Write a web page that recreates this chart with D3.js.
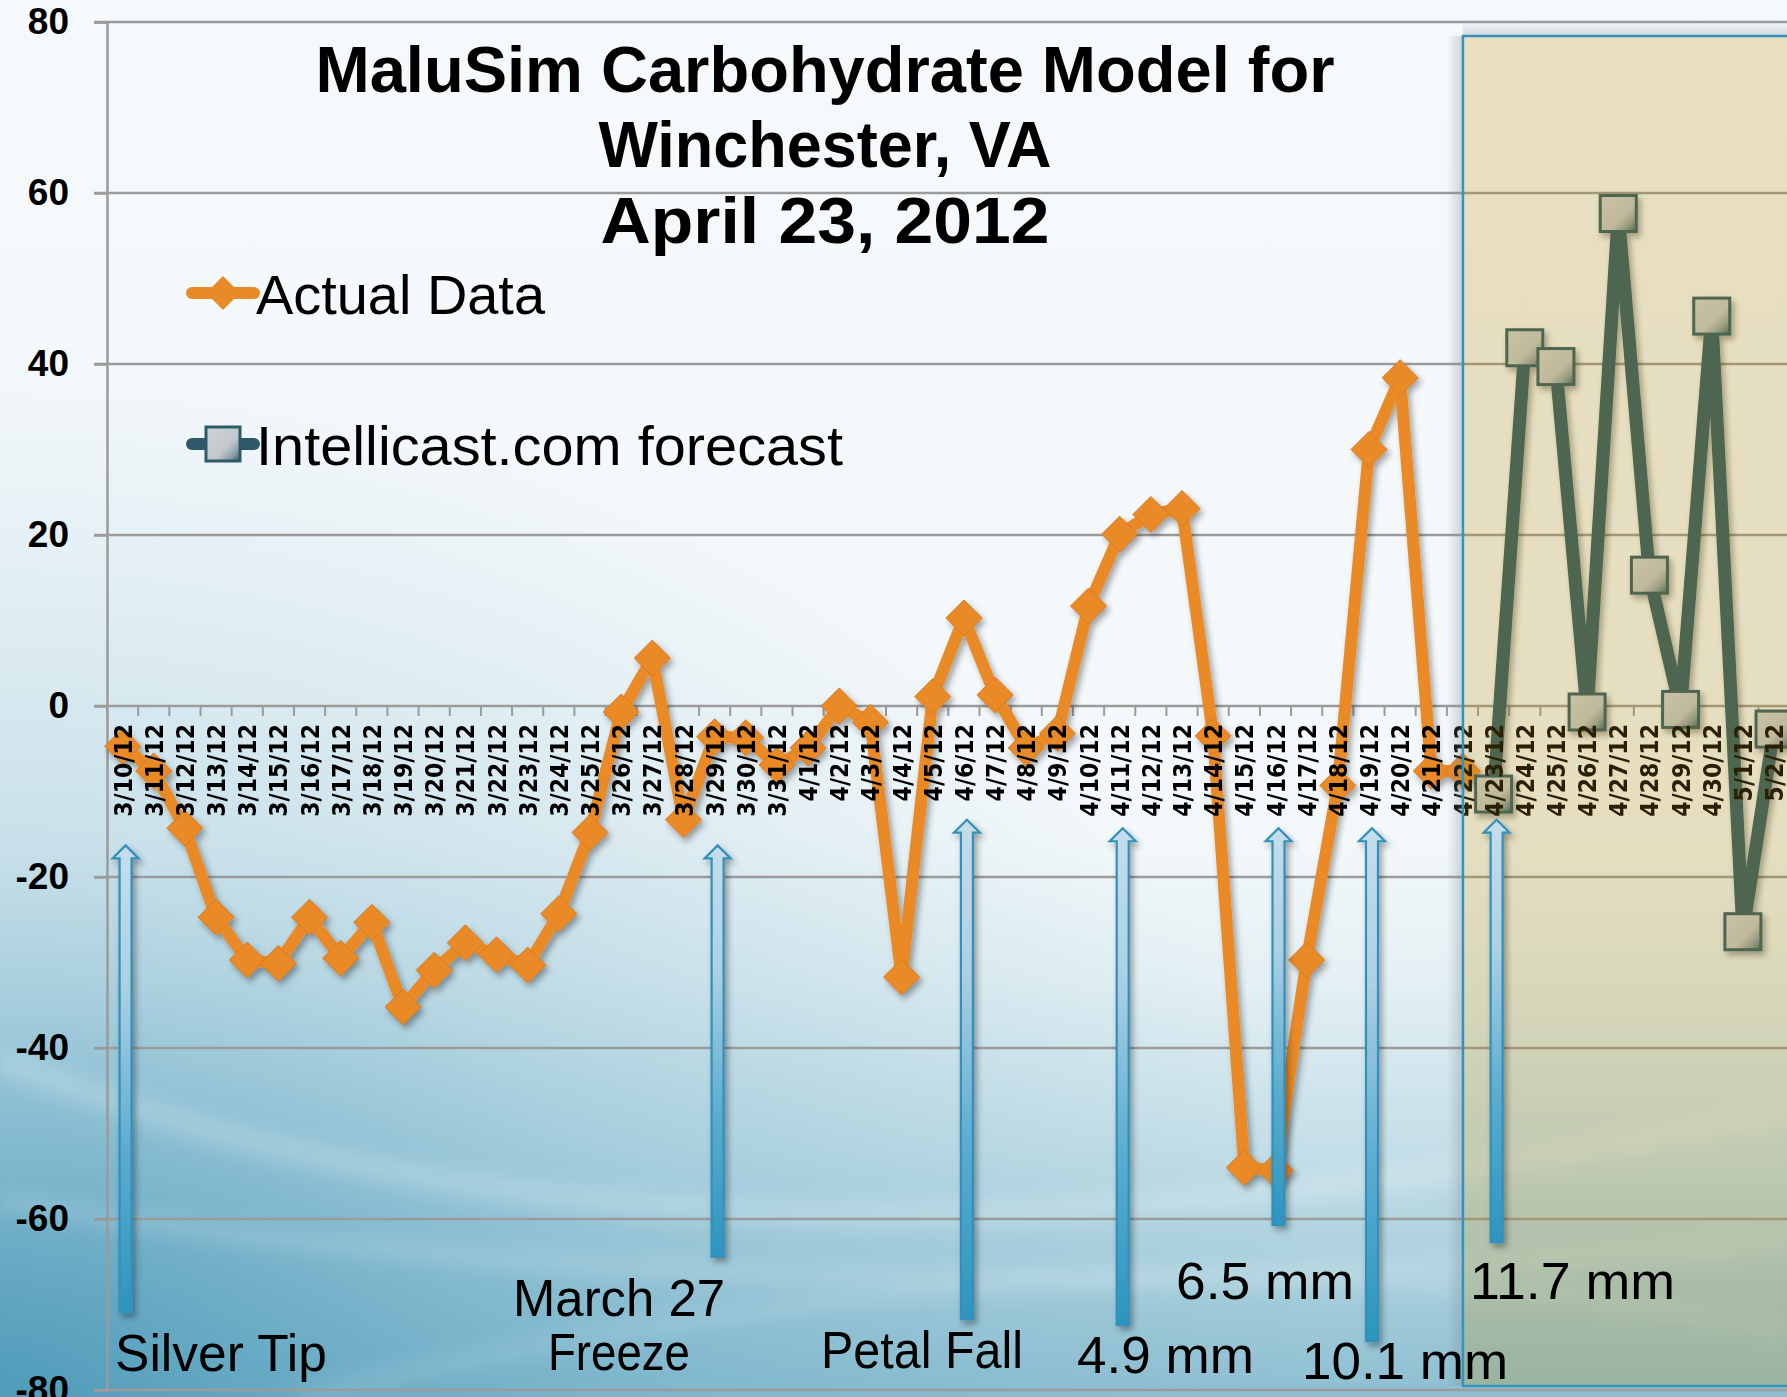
<!DOCTYPE html>
<html><head><meta charset="utf-8">
<script src="https://cdn.jsdelivr.net/npm/d3@7"></script>
<style>html,body{margin:0;padding:0;overflow:hidden;background:#f5f9fb}</style>
</head><body>
<svg id="c" width="1787" height="1397"></svg>
<script>
// ---------------- DATA ----------------
const dates = ["3/10/12","3/11/12","3/12/12","3/13/12","3/14/12","3/15/12","3/16/12","3/17/12","3/18/12","3/19/12",
  "3/20/12","3/21/12","3/22/12","3/23/12","3/24/12","3/25/12","3/26/12","3/27/12","3/28/12","3/29/12","3/30/12","3/31/12",
  "4/1/12","4/2/12","4/3/12","4/4/12","4/5/12","4/6/12","4/7/12","4/8/12","4/9/12","4/10/12","4/11/12","4/12/12","4/13/12",
  "4/14/12","4/15/12","4/16/12","4/17/12","4/18/12","4/19/12","4/20/12","4/21/12","4/22/12",
  "4/23/12","4/24/12","4/25/12","4/26/12","4/27/12","4/28/12","4/29/12","4/30/12","5/1/12","5/2/12"];
const actualDates = dates.slice(0, 44);
const actualValues = [-4.7,-7.6,-14.3,-24.7,-29.7,-30.1,-24.7,-29.5,-25.3,-35.2,
  -30.9,-27.7,-29.1,-30.3,-24.3,-14.8,-0.7,5.6,-13.3,-3.6,-3.7,-6.9,
  -4.9,0,-1.9,-31.7,1.1,10.3,1.3,-4.9,-3.2,11.7,20.1,22.4,23.1,
  -3.5,-54,-54.3,-29.7,-9.3,30,38.4,-7.6,-7.6];
const forecastDates = dates.slice(44);
const forecastValues = [-10.3,41.9,39.7,-0.7,57.6,15.3,-0.4,45.6,-26.4,-2.7];
const yTicks = [80,60,40,20,0,-20,-40,-60,-80];
const seriesNames = ["Actual Data","Intellicast.com forecast"];
const titleLines = ["MaluSim Carbohydrate Model for","Winchester, VA","April 23, 2012"];
// event arrows: date, arrow tip value, arrow tail value
const arrowDates = ["3/10/12","3/29/12","4/6/12","4/11/12","4/16/12","4/19/12","4/23/12"];
const arrowTops = [-16.3,-16.3,-13.3,-14.3,-14.3,-14.3,-13.3];
const arrowBottoms = [-70.9,-64.4,-71.7,-72.4,-60.7,-74.3,-62.7];
const arrowLabels = [["Silver Tip"],["March 27","Freeze"],["Petal Fall"],["4.9 mm"],["6.5 mm"],["10.1 mm"],["11.7 mm"]];
const forecastStart = "4/23/12";

// ---------------- LAYOUT ----------------
const W = 1787, H = 1397;
const left = 107, bw = 31.16;
const svg = d3.select("#c");
const x = d3.scaleBand().domain(dates).range([left, left + dates.length * bw]).padding(0);
const y = d3.scaleLinear().domain([-80, 80]).range([1390, 22]);
const cx = d => x(d) + x.bandwidth() / 2;

const defs = svg.append("defs");
const bg = defs.append("linearGradient").attr("id","bg").attr("x1",0).attr("y1",0).attr("x2",0).attr("y2",1);
[[0,"#f6f9fb"],[0.6,"#f3f8fa"],[0.7,"#e4f0f4"],[0.82,"#c5dfe8"],[0.93,"#a3cbda"],[1,"#8dbfd1"]]
  .forEach(s => bg.append("stop").attr("offset", s[0]).attr("stop-color", s[1]));
const rg = defs.append("radialGradient").attr("id","bl").attr("cx",0).attr("cy",1).attr("r",0.75);
rg.append("stop").attr("offset",0).attr("stop-color","#3a8fb2").attr("stop-opacity",0.75);
rg.append("stop").attr("offset",0.5).attr("stop-color","#5aa3c0").attr("stop-opacity",0.3);
rg.append("stop").attr("offset",1).attr("stop-color","#7ab6cb").attr("stop-opacity",0);
const ag = defs.append("linearGradient").attr("id","arrowg").attr("x1",0).attr("y1",0).attr("x2",0).attr("y2",1);
[[0,"#c6ddeb"],[0.3,"#aed0e2"],[0.65,"#5cacd0"],[1,"#2c95bf"]]
  .forEach(s => ag.append("stop").attr("offset", s[0]).attr("stop-color", s[1]));
const sq = defs.append("linearGradient").attr("id","sqg").attr("x1",0).attr("y1",0).attr("x2",1).attr("y2",1);
[[0,"#ced3d7"],[0.6,"#c2c8cc"],[0.8,"#8fa0a7"],[1,"#355e6c"]]
  .forEach(s => sq.append("stop").attr("offset", s[0]).attr("stop-color", s[1]));
const shL = defs.append("linearGradient").attr("id","shl").attr("x1",0).attr("y1",0).attr("x2",1).attr("y2",0);
shL.append("stop").attr("offset",0).attr("stop-color","#7a8a90").attr("stop-opacity",0);
shL.append("stop").attr("offset",1).attr("stop-color","#7a8a90").attr("stop-opacity",0.35);
const shT = defs.append("linearGradient").attr("id","sht").attr("x1",0).attr("y1",0).attr("x2",0).attr("y2",1);
shT.append("stop").attr("offset",0).attr("stop-color","#7a8a90").attr("stop-opacity",0);
shT.append("stop").attr("offset",1).attr("stop-color","#7a8a90").attr("stop-opacity",0.3);
const f = defs.append("filter").attr("id","shadow").attr("x","-20%").attr("y","-20%").attr("width","140%").attr("height","140%");
f.append("feDropShadow").attr("dx",3).attr("dy",4).attr("stdDeviation",3).attr("flood-color","#000").attr("flood-opacity",0.35);
defs.append("filter").attr("id","blur").append("feGaussianBlur").attr("stdDeviation",10);

// background
svg.append("rect").attr("width",W).attr("height",H).attr("fill","url(#bg)");
svg.append("rect").attr("width",W).attr("height",H).attr("fill","url(#bl)");
const sw = svg.append("g").attr("filter","url(#blur)").attr("fill","none").attr("stroke","#ffffff");
sw.append("path").attr("d","M0,1060 Q700,1340 1787,1110").attr("stroke-width",22).attr("stroke-opacity",0.22);
sw.append("path").attr("d","M0,1200 Q800,1330 1787,1240").attr("stroke-width",16).attr("stroke-opacity",0.18);
sw.append("path").attr("d","M300,1397 Q1100,1200 1787,1330").attr("stroke-width",14).attr("stroke-opacity",0.15);

// gridlines
svg.append("g").selectAll("line").data(yTicks).join("line")
  .attr("x1", left - 13).attr("x2", W).attr("y1", d => y(d)).attr("y2", d => y(d))
  .attr("stroke","#9b9b9b").attr("stroke-width",2.5);

// y axis
const yAxis = svg.append("g").attr("transform",`translate(${left},0)`)
  .call(d3.axisLeft(y).tickValues(yTicks).tickSize(13).tickPadding(25).tickFormat(d => String(d)));
yAxis.select(".domain").attr("stroke","#9b9b9b").attr("stroke-width",2.5);
yAxis.selectAll(".tick line").attr("stroke","#9b9b9b").attr("stroke-width",2.5);
yAxis.selectAll("text").attr("font-family","'Liberation Sans', Arial, sans-serif")
  .attr("font-weight","bold").attr("font-size",37).attr("fill","#000");

// x ticks at band boundaries
const boundaries = dates.map(d => x(d)).concat([x(dates[dates.length-1]) + x.bandwidth()]);
svg.append("g").selectAll("line").data(boundaries).join("line")
  .attr("x1", d => d).attr("x2", d => d).attr("y1", y(0)).attr("y2", y(0) + 10)
  .attr("stroke","#9b9b9b").attr("stroke-width",2);

// series
const line = d3.line().x(d => cx(d[0])).y(d => y(d[1]));
const actual = actualDates.map((d,i) => [d, actualValues[i]]);
const forecast = forecastDates.map((d,i) => [d, forecastValues[i]]);
const diamond = h => `M0,${-h}L${h},0L0,${h}L${-h},0Z`;

const gA = svg.append("g").attr("filter","url(#shadow)");
gA.append("path").attr("d", line(actual)).attr("fill","none").attr("stroke","#e98a28")
  .attr("stroke-width",12).attr("stroke-linejoin","round");
gA.selectAll("path.m").data(actual).join("path").attr("class","m")
  .attr("transform", d => `translate(${cx(d[0])},${y(d[1])})`)
  .attr("d", diamond(18)).attr("fill","#e98a28").attr("stroke","#d87a1e").attr("stroke-width",1);

const gF = svg.append("g").attr("filter","url(#shadow)");
gF.append("path").attr("d", line(forecast)).attr("fill","none").attr("stroke","#2e5a68")
  .attr("stroke-width",13).attr("stroke-linejoin","round");
gF.selectAll("rect").data(forecast).join("rect")
  .attr("x", d => cx(d[0]) - 18).attr("y", d => y(d[1]) - 18).attr("width",36).attr("height",36)
  .attr("fill","url(#sqg)").attr("stroke","#2e5a68").attr("stroke-width",3);

// x labels (drawn above the series, as in the reference)
svg.append("g").selectAll("text").data(dates).join("text")
  .attr("transform", d => `translate(${cx(d)},${y(0) + 18}) rotate(-90) scale(0.98,1.12)`)
  .attr("text-anchor","end").attr("dy","0.36em")
  .attr("font-family","'DejaVu Sans', Verdana, sans-serif").attr("font-weight","bold")
  .attr("font-size",22.5).attr("fill","#000").text(d => d);

// forecast region overlay
const rx = x(forecastStart) - 0.5 * x.bandwidth() + 0.5;
svg.append("rect").attr("x", rx - 16).attr("y", 36).attr("width",16).attr("height", 1386 - 36).attr("fill","url(#shl)");
svg.append("rect").attr("x", rx).attr("y", 22).attr("width", W - rx).attr("height",14).attr("fill","url(#sht)");
svg.append("rect").attr("x", rx).attr("y", 36).attr("width", W - rx + 10).attr("height", 1386 - 36)
  .attr("fill","rgb(186,140,0)").attr("fill-opacity",0.23)
  .attr("stroke","#3592bd").attr("stroke-width",2.5);

// arrows
const gArr = svg.append("g").attr("filter","url(#shadow)");
arrowDates.forEach((d,i) => {
  const c = cx(d) + 3, t = y(arrowTops[i]), b = y(arrowBottoms[i]);
  const hw = 13, hh = 13, sw2 = 6;
  const pts = [[c,t],[c+hw,t+hh],[c+sw2,t+hh],[c+sw2,b],[c-sw2,b],[c-sw2,t+hh],[c-hw,t+hh]];
  gArr.append("path").attr("d","M" + pts.map(p => p.join(",")).join("L") + "Z")
    .attr("fill","url(#arrowg)").attr("stroke","#3090bb").attr("stroke-width",2.2).attr("stroke-linejoin","miter");
});

// annotation labels
const labelPos = [
  [{x:115,y:1371,a:"start",w:212}],
  [{x:619,y:1316,a:"middle",w:212},{x:619,y:1370,a:"middle",w:142}],
  [{x:821,y:1368,a:"start",w:202}],
  [{x:1077,y:1373,a:"start",w:177}],
  [{x:1176,y:1299,a:"start",w:178}],
  [{x:1302,y:1379,a:"start",w:206}],
  [{x:1470,y:1299,a:"start",w:205}]
];
const gL = svg.append("g").attr("font-family","'Liberation Sans', Arial, sans-serif").attr("font-size",52).attr("fill","#000");
arrowLabels.forEach((lines,i) => lines.forEach((t,j) => {
  const p = labelPos[i][j];
  gL.append("text").attr("x",p.x).attr("y",p.y).attr("text-anchor",p.a)
    .attr("textLength",p.w).attr("lengthAdjust","spacingAndGlyphs").text(t);
}));

// title
const gT = svg.append("g").attr("font-family","'Liberation Sans', Arial, sans-serif")
  .attr("font-weight","bold").attr("font-size",65).attr("text-anchor","middle").attr("fill","#000");
const titleW = [1019, 453, 449];
[92,167,243].forEach((yy,i) => gT.append("text").attr("x",825).attr("y",yy)
  .attr("textLength",titleW[i]).attr("lengthAdjust","spacingAndGlyphs").text(titleLines[i]));

// legend
const lg = svg.append("g");
lg.append("line").attr("x1",192).attr("x2",254).attr("y1",293).attr("y2",293)
  .attr("stroke","#e98a28").attr("stroke-width",12).attr("stroke-linecap","round");
lg.append("path").attr("transform","translate(223,293)").attr("d",diamond(17)).attr("fill","#e98a28");
lg.append("line").attr("x1",192).attr("x2",254).attr("y1",444).attr("y2",444)
  .attr("stroke","#2e5a68").attr("stroke-width",12).attr("stroke-linecap","round");
lg.append("rect").attr("x",206).attr("y",427).attr("width",34).attr("height",34)
  .attr("fill","url(#sqg)").attr("stroke","#2e5a68").attr("stroke-width",3);
const legW = [289, 587];
lg.selectAll("text").data(seriesNames).join("text")
  .attr("x",256).attr("y",(d,i) => i === 0 ? 314 : 465)
  .attr("font-family","'Liberation Sans', Arial, sans-serif").attr("font-size",56).attr("fill","#000")
  .attr("textLength",(d,i) => legW[i]).attr("lengthAdjust","spacingAndGlyphs")
  .text(d => d);
</script>
</body></html>
